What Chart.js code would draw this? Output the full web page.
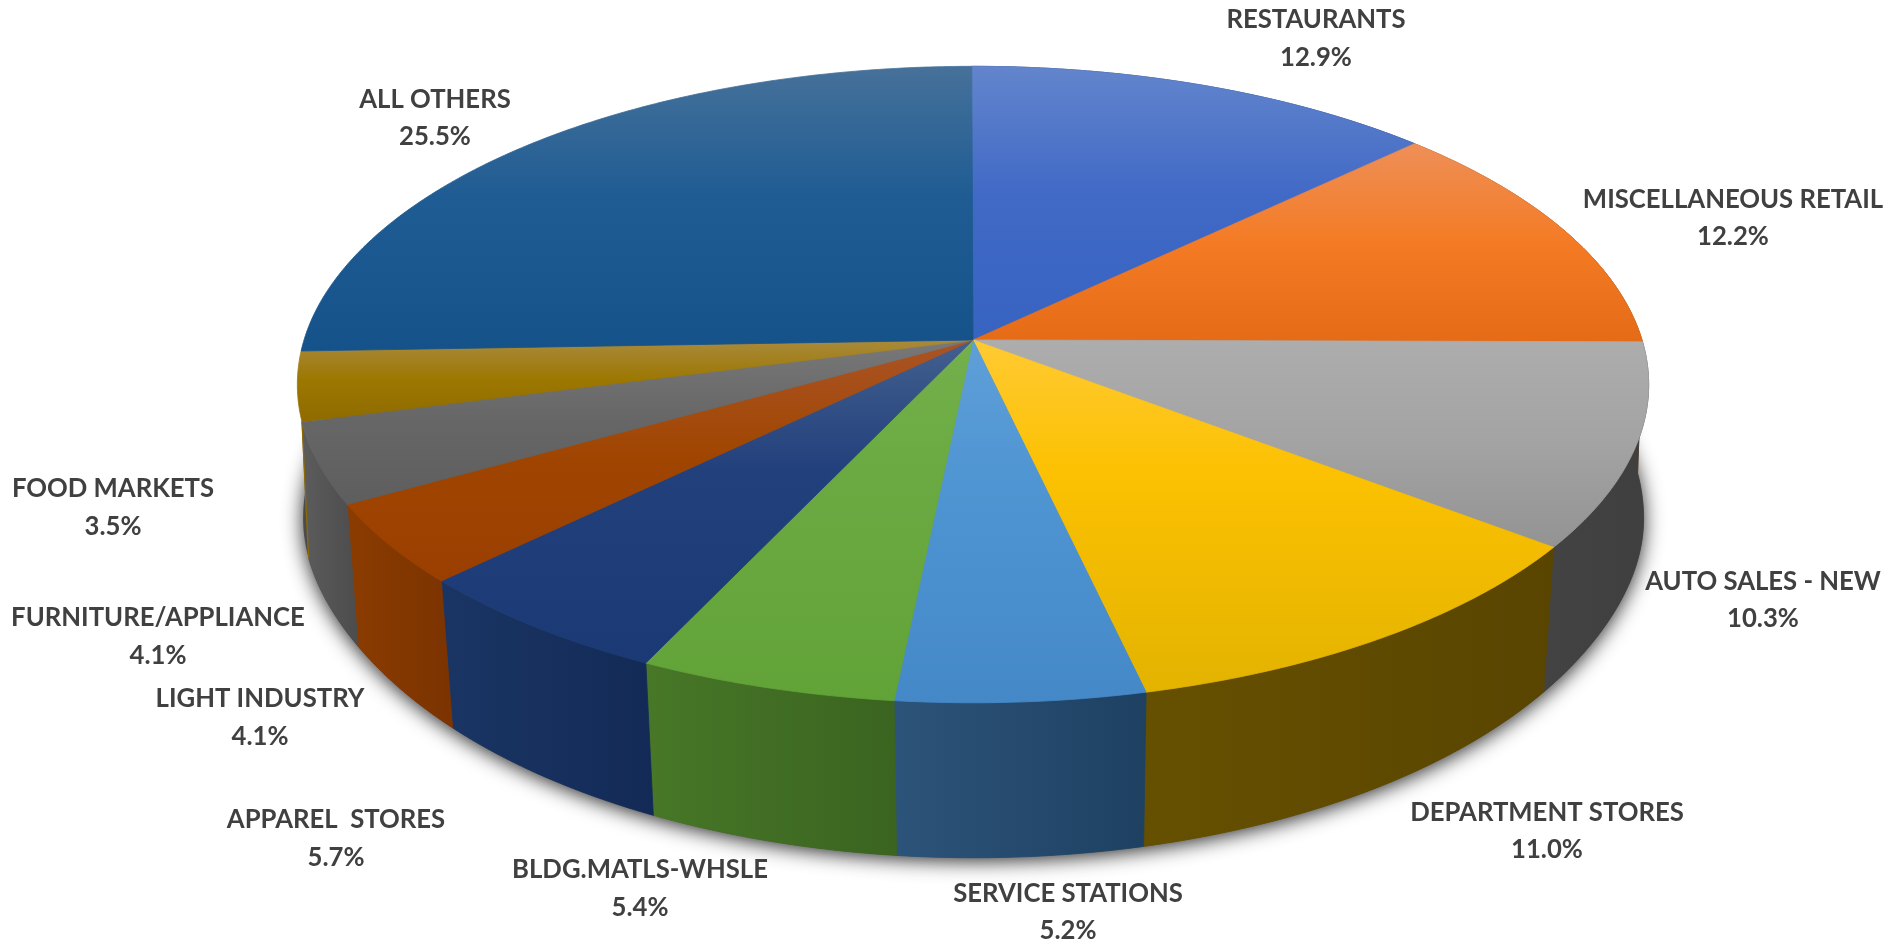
<!DOCTYPE html>
<html>
<head>
<meta charset="utf-8">
<style>html,body{margin:0;padding:0;background:#fff}canvas{display:block;filter:blur(0.4px)}</style>
<script src="https://cdn.jsdelivr.net/npm/chart.js@4"></script>
</head>
<body>
<canvas id="c" width="1888" height="943" style="width:1888px;height:943px"></canvas>
<script>
const categories = ["RESTAURANTS","MISCELLANEOUS RETAIL","AUTO SALES - NEW","DEPARTMENT STORES","SERVICE STATIONS","BLDG.MATLS-WHSLE","APPAREL  STORES","LIGHT INDUSTRY","FURNITURE/APPLIANCE","FOOD MARKETS","ALL OTHERS"];
const shares = [12.9,12.2,10.3,11.0,5.2,5.4,5.7,4.1,4.1,3.5,25.5];

const topLight = ["#6285CC","#EE8F58","#ADADAD","#FFCA33","#5F9FD8","#74B04C","#43608F","#AA5425","#787878","#A98A3C","#46719A"];
const topMid   = ["#4169C6","#F47B24","#A3A3A3","#FCC102","#5096D3","#6BAA42","#22407C","#A04500","#666666","#9C7700","#1F5C93"];
const topDark  = ["#3763C1","#E56B17","#939393","#E3B300","#4488C8","#62A338","#1B3A75","#9A3F00","#5E5E5E","#8F6B00","#15528A"];
const wallLeft = ["#25407A","#8F4A15","#434343","#665000","#2C5379","#477727","#1A3564","#8B3C00","#5C5C5C","#6B5000","#143A5C"];
const wallRight= ["#1F3870","#7F4010","#3F3F3F","#594500","#1E4162","#3A6420","#132A56","#7B3300","#4C4C4C","#5E4700","#103350"];
const labelAnchors = [[1316,20,58],[1733,200,237],[1763,582,619],[1547,813,850],[1068,894,931],[640,870,908],[336,820,858],[260,699,737],[158,618,656],[113,489,527],[435,100,137]];

const view = {cx:973, cy:340, a:669, b:312, k:0.14, vx:1020, shrink:0.98, spread:0.012, spreadY:385, depth:147, growth:0.066, growthY:582};
const hiddenWalls = ["FOOD MARKETS","ALL OTHERS"];

function topPoint(t, r){
  const x = r*Math.cos(t), y = r*Math.sin(t), d = 1 - view.k*y;
  return [view.cx + view.a*x/d, view.cy + view.b*y/d];
}
function bottomOf(p){
  const u = Math.max(0, (p[1]-view.spreadY)/110);
  const s = view.shrink + view.spread*Math.exp(-u*u);
  return [view.vx + s*(p[0]-view.vx), p[1] + view.depth + view.growth*(p[1]-view.growthY)];
}
function arcPoints(a0, a1){
  const n = Math.max(4, Math.ceil((a1-a0)/0.01)), pts = [];
  for(let i=0;i<=n;i++) pts.push(topPoint(a0+(a1-a0)*i/n, 1));
  return pts;
}
function trace(ctx, pts){
  ctx.beginPath();
  pts.forEach((p,i)=> i?ctx.lineTo(p[0],p[1]):ctx.moveTo(p[0],p[1]));
  ctx.closePath();
}

const pie3d = {
  id:'pie3d',
  beforeDatasetsDraw(chart){
    const ctx = chart.ctx, arcs = chart.getDatasetMeta(0).data;
    // soft shadow under the lower rim
    ctx.save();
    ctx.shadowColor = 'rgba(0,0,0,0.85)';
    ctx.shadowBlur = 20;
    ctx.shadowOffsetY = 3;
    ctx.fillStyle = '#4c4c4c';
    trace(ctx, arcPoints(-Math.PI/2, 1.5*Math.PI).map(bottomOf));
    ctx.fill();
    ctx.restore();

    // outer walls
    arcs.forEach((el,i)=>{
      if(hiddenWalls.includes(categories[i])) return;
      const rim = arcPoints(el.startAngle, el.endAngle);
      const low = rim.map(bottomOf);
      const xs = rim.concat(low).map(p=>p[0]);
      const g = ctx.createLinearGradient(Math.min(...xs),0,Math.max(...xs),0);
      g.addColorStop(0, wallLeft[i]);
      g.addColorStop(1, wallRight[i]);
      ctx.fillStyle = g; ctx.strokeStyle = g; ctx.lineWidth = 0.8;
      trace(ctx, rim.concat(low.slice().reverse()));
      ctx.fill(); ctx.stroke();
      // the neighbouring food-market wall only shows as a thin sliver
      if(categories[i+1]==="FOOD MARKETS"){
        const p = rim[rim.length-1], q = low[low.length-1];
        ctx.strokeStyle = '#8F6B00'; ctx.lineWidth = 1.2;
        ctx.beginPath(); ctx.moveTo(p[0],p[1]); ctx.lineTo(q[0],q[1]); ctx.stroke();
      }
    });

    // top face
    arcs.forEach((el,i)=>{
      const rim = arcPoints(el.startAngle, el.endAngle);
      const poly = [topPoint(0,0)].concat(rim);
      const ys = poly.map(p=>p[1]);
      const y0 = Math.min(...ys), y1 = Math.max(...ys);
      const g = ctx.createLinearGradient(0,y0,0,y1);
      g.addColorStop(0, topLight[i]);
      g.addColorStop(Math.min(0.5, 130/(y1-y0)), topMid[i]);
      g.addColorStop(1, topDark[i]);
      ctx.fillStyle = g; ctx.strokeStyle = g; ctx.lineWidth = 0.8;
      trace(ctx, poly);
      ctx.fill(); ctx.stroke();
    });
    return false;
  },
  afterDraw(chart){
    const ctx = chart.ctx;
    ctx.save();
    ctx.font = '700 25.7px Lato';
    ctx.fillStyle = '#404040';
    ctx.textAlign = 'center';
    ctx.textBaseline = 'middle';
    categories.forEach((name,i)=>{
      const [x,y1,y2] = labelAnchors[i];
      ctx.fillText(name, x, y1);
      ctx.fillText(shares[i].toFixed(1)+'%', x, y2);
    });
    ctx.restore();
  }
};

new Chart(document.getElementById('c'), {
  type:'pie',
  data:{labels:categories, datasets:[{data:shares, backgroundColor:topMid, borderWidth:0}]},
  options:{
    responsive:false, animation:false, devicePixelRatio:1, rotation:-0.12,
    plugins:{legend:{display:false}, tooltip:{enabled:false}, title:{display:false}},
    events:[]
  },
  plugins:[pie3d]
});
</script>
</body>
</html>
